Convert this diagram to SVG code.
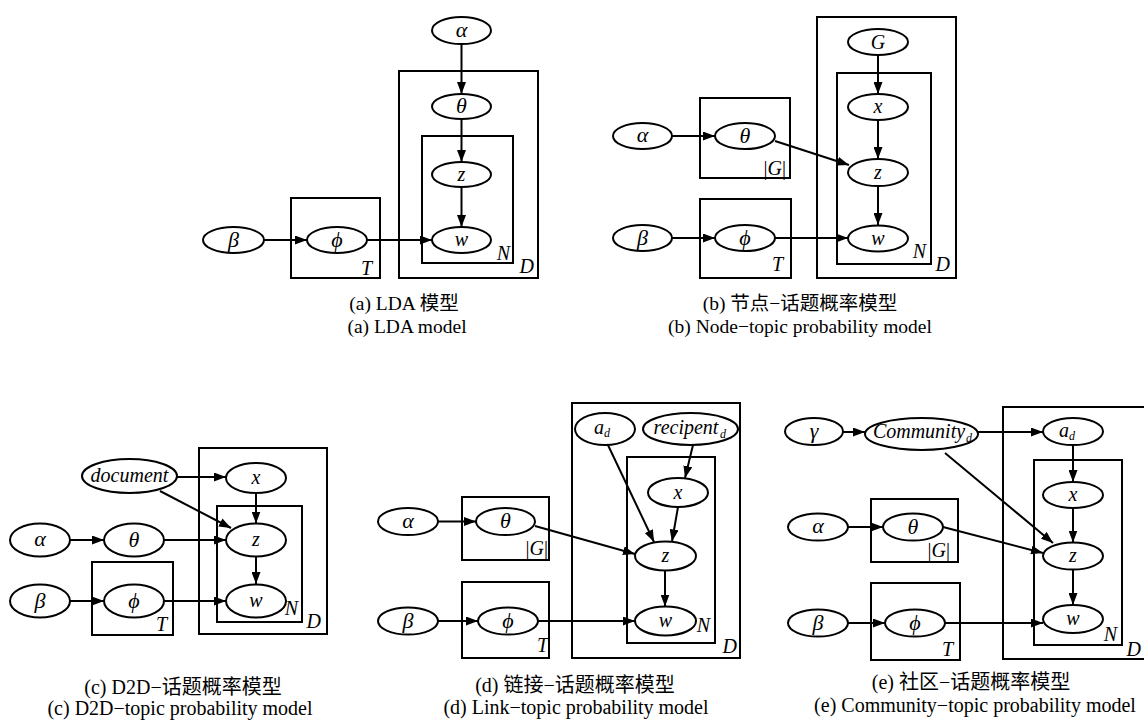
<svg xmlns="http://www.w3.org/2000/svg" width="1144" height="725" viewBox="0 0 1144 725">
<defs>
<marker id="arr" viewBox="0 0 12 9" refX="12" refY="4.5" markerUnits="userSpaceOnUse" markerWidth="12" markerHeight="9" orient="auto">
<path d="M0,0 L12,4.5 L0,9 z" fill="#000"/>
</marker>
</defs>
<style>
.n{fill:#fff;stroke:#000;stroke-width:2}
.p{fill:none;stroke:#000;stroke-width:2}
.e{fill:none;stroke:#000;stroke-width:2;marker-end:url(#arr)}
.l{font-family:"Liberation Serif",serif;font-style:italic;font-size:20px;text-anchor:middle;fill:#000}
.g{font-size:22px}
.s{font-family:"Liberation Serif",serif;font-style:italic;font-size:12px;fill:#000}
.pl{font-family:"Liberation Serif",serif;font-style:italic;font-size:20px;text-anchor:end;fill:#000}
.pu{font-family:"Liberation Serif",serif;font-style:normal}
.c{font-family:"Liberation Serif","Noto Sans CJK SC",serif;font-size:19.5px;text-anchor:middle;fill:#000}
.cb{font-size:20px}
</style>
<rect width="1144" height="725" fill="#fff"/>

<!-- Panel (a) -->
<g id="panel-a">
<g id="a-plates">
<rect class="p" x="399" y="71" width="139" height="207"/>
<rect class="p" x="422" y="136" width="91" height="127"/>
<rect class="p" x="291" y="198" width="89" height="80"/>
<text class="pl" x="510" y="260">N</text>
<text class="pl" x="534" y="273">D</text>
<text class="pl" x="372" y="275">T</text>
</g>
<g id="a-edges">
<line class="e" x1="461.5" y1="44" x2="461.5" y2="94"/>
<line class="e" x1="461.5" y1="119" x2="461.5" y2="162"/>
<line class="e" x1="461.5" y1="187" x2="461.5" y2="227"/>
<line class="e" x1="264" y1="240" x2="307" y2="240"/>
<line class="e" x1="367" y1="240" x2="432" y2="240"/>
</g>
<g id="a-alpha"><ellipse class="n" cx="461.5" cy="30.5" rx="29.5" ry="13.5"/><text class="l g" x="461.5" y="36.5">α</text></g>
<g id="a-theta"><ellipse class="n" cx="461.5" cy="106.5" rx="29.5" ry="12.5"/><text class="l g" x="461.5" y="113">θ</text></g>
<g id="a-z"><ellipse class="n" cx="461.5" cy="174.5" rx="29.5" ry="12.5"/><text class="l" x="461.5" y="180.5">z</text></g>
<g id="a-w"><ellipse class="n" cx="461.5" cy="240" rx="29.5" ry="13"/><text class="l" x="461.5" y="246">w</text></g>
<g id="a-beta"><ellipse class="n" cx="233.5" cy="240" rx="30.5" ry="13"/><text class="l g" x="233.5" y="246.5">β</text></g>
<g id="a-phi"><ellipse class="n" cx="337" cy="240" rx="30" ry="13"/><text class="l g" x="337" y="246.5">ϕ</text></g>
<g id="a-caption">
<text class="c" x="404" y="310">(a) LDA 模型</text>
<text class="c" x="407" y="333">(a) LDA model</text>
</g>
</g>

<!-- Panel (b) -->
<g id="panel-b">
<g id="b-plates">
<rect class="p" x="817" y="17" width="139" height="261"/>
<rect class="p" x="837" y="73" width="94" height="191"/>
<rect class="p" x="700" y="98" width="90" height="80"/>
<rect class="p" x="700" y="199" width="91" height="79"/>
<text class="pl" x="786" y="175"><tspan class="pu">|</tspan>G<tspan class="pu">|</tspan></text>
<text class="pl" x="926" y="258">N</text>
<text class="pl" x="950" y="271">D</text>
<text class="pl" x="783" y="271">T</text>
</g>
<g id="b-edges">
<line class="e" x1="878" y1="55" x2="878" y2="94"/>
<line class="e" x1="878" y1="120" x2="878" y2="159"/>
<line class="e" x1="878" y1="186" x2="878" y2="225"/>
<line class="e" x1="672" y1="136" x2="715" y2="136"/>
<line class="e" x1="775" y1="141" x2="849" y2="165"/>
<line class="e" x1="672" y1="238" x2="715" y2="238"/>
<line class="e" x1="775" y1="238" x2="848" y2="238"/>
</g>
<g id="b-G"><ellipse class="n" cx="878" cy="42" rx="30" ry="13"/><text class="l" x="878" y="48.5">G</text></g>
<g id="b-x"><ellipse class="n" cx="878" cy="107" rx="30" ry="13"/><text class="l" x="878" y="113">x</text></g>
<g id="b-z"><ellipse class="n" cx="878" cy="172.5" rx="30" ry="13.5"/><text class="l" x="878" y="178.5">z</text></g>
<g id="b-w"><ellipse class="n" cx="878" cy="238.5" rx="30" ry="13"/><text class="l" x="878" y="244.5">w</text></g>
<g id="b-alpha"><ellipse class="n" cx="642.5" cy="136" rx="29.5" ry="13"/><text class="l g" x="642.5" y="142">α</text></g>
<g id="b-theta"><ellipse class="n" cx="745" cy="136" rx="30" ry="13"/><text class="l g" x="745" y="142.5">θ</text></g>
<g id="b-beta"><ellipse class="n" cx="642.5" cy="238" rx="29.5" ry="13"/><text class="l g" x="642.5" y="244.5">β</text></g>
<g id="b-phi"><ellipse class="n" cx="745" cy="238" rx="30" ry="13"/><text class="l g" x="745" y="244.5">ϕ</text></g>
<g id="b-caption">
<text class="c" x="800" y="310">(b) 节点−话题概率模型</text>
<text class="c" x="800" y="333">(b) Node−topic probability model</text>
</g>
</g>

<!-- Panel (c) -->
<g id="panel-c">
<g id="c-plates">
<rect class="p" x="199" y="448" width="128" height="186"/>
<rect class="p" x="217" y="506" width="85" height="116"/>
<rect class="p" x="92" y="562" width="81" height="73"/>
<text class="pl" x="298" y="615">N</text>
<text class="pl" x="321" y="628">D</text>
<text class="pl" x="167" y="631">T</text>
</g>
<g id="c-edges">
<line class="e" x1="177" y1="477" x2="226" y2="477"/>
<line class="e" x1="160" y1="491" x2="231" y2="528"/>
<line class="e" x1="256" y1="493" x2="256" y2="523.5"/>
<line class="e" x1="164" y1="540" x2="226" y2="540"/>
<line class="e" x1="256" y1="556.5" x2="256" y2="584"/>
<line class="e" x1="70" y1="540" x2="104" y2="540"/>
<line class="e" x1="70" y1="601" x2="104" y2="601"/>
<line class="e" x1="164" y1="601" x2="226" y2="601"/>
</g>
<g id="c-document"><ellipse class="n" cx="129.5" cy="476" rx="47.5" ry="17"/><text class="l" x="129.5" y="482">document</text></g>
<g id="c-x"><ellipse class="n" cx="256" cy="478" rx="30" ry="15"/><text class="l" x="256" y="484">x</text></g>
<g id="c-z"><ellipse class="n" cx="256" cy="540" rx="30" ry="16.5"/><text class="l" x="256" y="546">z</text></g>
<g id="c-w"><ellipse class="n" cx="256" cy="601" rx="30" ry="16.5"/><text class="l" x="256" y="607">w</text></g>
<g id="c-alpha"><ellipse class="n" cx="40" cy="540" rx="30" ry="16.5"/><text class="l g" x="40" y="546">α</text></g>
<g id="c-theta"><ellipse class="n" cx="134" cy="540" rx="30" ry="16.5"/><text class="l g" x="134" y="547">θ</text></g>
<g id="c-beta"><ellipse class="n" cx="40" cy="601" rx="30" ry="16.5"/><text class="l g" x="40" y="607.5">β</text></g>
<g id="c-phi"><ellipse class="n" cx="134" cy="601" rx="30" ry="16.5"/><text class="l g" x="134" y="607.5">ϕ</text></g>
<g id="c-caption">
<text class="c cb" x="183" y="694">(c) D2D−话题概率模型</text>
<text class="c cb" x="180" y="715">(c) D2D−topic probability model</text>
</g>
</g>

<!-- Panel (d) -->
<g id="panel-d">
<g id="d-plates">
<rect class="p" x="572" y="403" width="168" height="255"/>
<rect class="p" x="627" y="457" width="88" height="186"/>
<rect class="p" x="462" y="497" width="87" height="63"/>
<rect class="p" x="462" y="582" width="87" height="76"/>
<text class="pl" x="548" y="555"><tspan class="pu">|</tspan>G<tspan class="pu">|</tspan></text>
<text class="pl" x="710" y="632">N</text>
<text class="pl" x="737" y="653">D</text>
<text class="pl" x="548" y="652">T</text>
</g>
<g id="d-edges">
<line class="e" x1="693" y1="445" x2="685" y2="478"/>
<line class="e" x1="607" y1="443" x2="654" y2="542"/>
<line class="e" x1="678" y1="507" x2="672" y2="541.5"/>
<line class="e" x1="535" y1="526" x2="635" y2="554"/>
<line class="e" x1="665" y1="570.5" x2="665" y2="606.5"/>
<line class="e" x1="438" y1="521.5" x2="476" y2="521.5"/>
<line class="e" x1="438" y1="621" x2="478" y2="621"/>
<line class="e" x1="538" y1="621" x2="635" y2="621"/>
</g>
<g id="d-ad"><ellipse class="n" cx="605" cy="429" rx="30" ry="16"/><text class="l" x="599" y="434">a</text><text class="s" x="604" y="437">d</text></g>
<g id="d-recipent"><ellipse class="n" cx="690.5" cy="429" rx="47.5" ry="16"/><text class="l" x="686" y="434">recipent</text><text class="s" x="720" y="438">d</text></g>
<g id="d-x"><ellipse class="n" cx="678" cy="492.5" rx="30" ry="14.5"/><text class="l" x="678" y="498.5">x</text></g>
<g id="d-z"><ellipse class="n" cx="665.5" cy="556" rx="30.5" ry="14.5"/><text class="l" x="665.5" y="562">z</text></g>
<g id="d-w"><ellipse class="n" cx="665.5" cy="621" rx="30.5" ry="14.5"/><text class="l" x="665.5" y="627">w</text></g>
<g id="d-alpha"><ellipse class="n" cx="408" cy="521.5" rx="30" ry="13.5"/><text class="l g" x="408" y="527.5">α</text></g>
<g id="d-theta"><ellipse class="n" cx="505.5" cy="521.5" rx="29.5" ry="13.5"/><text class="l g" x="505.5" y="528">θ</text></g>
<g id="d-beta"><ellipse class="n" cx="408" cy="621" rx="30" ry="13.5"/><text class="l g" x="408" y="627.5">β</text></g>
<g id="d-phi"><ellipse class="n" cx="508" cy="621" rx="30" ry="13.5"/><text class="l g" x="508" y="627.5">ϕ</text></g>
<g id="d-caption">
<text class="c cb" x="575" y="692">(d) 链接−话题概率模型</text>
<text class="c cb" x="576" y="714">(d) Link−topic probability model</text>
</g>
</g>

<!-- Panel (e) -->
<g id="panel-e">
<g id="e-plates">
<rect class="p" x="1003" y="407" width="149" height="252"/>
<rect class="p" x="1034" y="460" width="88" height="185"/>
<rect class="p" x="871" y="499" width="87" height="63"/>
<rect class="p" x="871" y="583" width="89" height="77"/>
<text class="pl" x="950" y="557"><tspan class="pu">|</tspan>G<tspan class="pu">|</tspan></text>
<text class="pl" x="1117" y="641">N</text>
<text class="pl" x="1141" y="656">D</text>
<text class="pl" x="953" y="656">T</text>
</g>
<g id="e-edges">
<line class="e" x1="843" y1="432" x2="865" y2="432"/>
<line class="e" x1="978" y1="432" x2="1043" y2="432"/>
<line class="e" x1="945" y1="453" x2="1053" y2="543"/>
<line class="e" x1="1073" y1="445" x2="1073" y2="482"/>
<line class="e" x1="1073" y1="508" x2="1073" y2="542.5"/>
<line class="e" x1="1073" y1="569.5" x2="1073" y2="605"/>
<line class="e" x1="848" y1="527" x2="883" y2="527"/>
<line class="e" x1="943" y1="527" x2="1043" y2="553"/>
<line class="e" x1="848" y1="623" x2="885" y2="623"/>
<line class="e" x1="945" y1="623" x2="1043" y2="623"/>
</g>
<g id="e-gamma"><ellipse class="n" cx="814" cy="431.5" rx="29" ry="13.5"/><text class="l g" x="814" y="437.5">γ</text></g>
<g id="e-community"><ellipse class="n" cx="921.5" cy="434" rx="56.5" ry="16"/><text class="l" x="919" y="438">Community</text><text class="s" x="966" y="442">d</text></g>
<g id="e-ad"><ellipse class="n" cx="1073" cy="431.5" rx="30" ry="13.5"/><text class="l" x="1064" y="437">a</text><text class="s" x="1069" y="440">d</text></g>
<g id="e-x"><ellipse class="n" cx="1073" cy="495" rx="30" ry="13"/><text class="l" x="1073" y="501">x</text></g>
<g id="e-z"><ellipse class="n" cx="1073" cy="556" rx="30" ry="13.5"/><text class="l" x="1073" y="562">z</text></g>
<g id="e-w"><ellipse class="n" cx="1073" cy="619" rx="30" ry="14"/><text class="l" x="1073" y="625">w</text></g>
<g id="e-alpha"><ellipse class="n" cx="818" cy="527" rx="30" ry="13.5"/><text class="l g" x="818" y="533">α</text></g>
<g id="e-theta"><ellipse class="n" cx="913" cy="527" rx="30" ry="13.5"/><text class="l g" x="913" y="533.5">θ</text></g>
<g id="e-beta"><ellipse class="n" cx="818" cy="623" rx="30" ry="13.5"/><text class="l g" x="818" y="629.5">β</text></g>
<g id="e-phi"><ellipse class="n" cx="915" cy="623" rx="30" ry="13.5"/><text class="l g" x="915" y="629.5">ϕ</text></g>
<g id="e-caption">
<text class="c cb" x="971" y="689">(e) 社区−话题概率模型</text>
<text class="c cb" x="975" y="712">(e) Community−topic probability model</text>
</g>
</g>
</svg>
